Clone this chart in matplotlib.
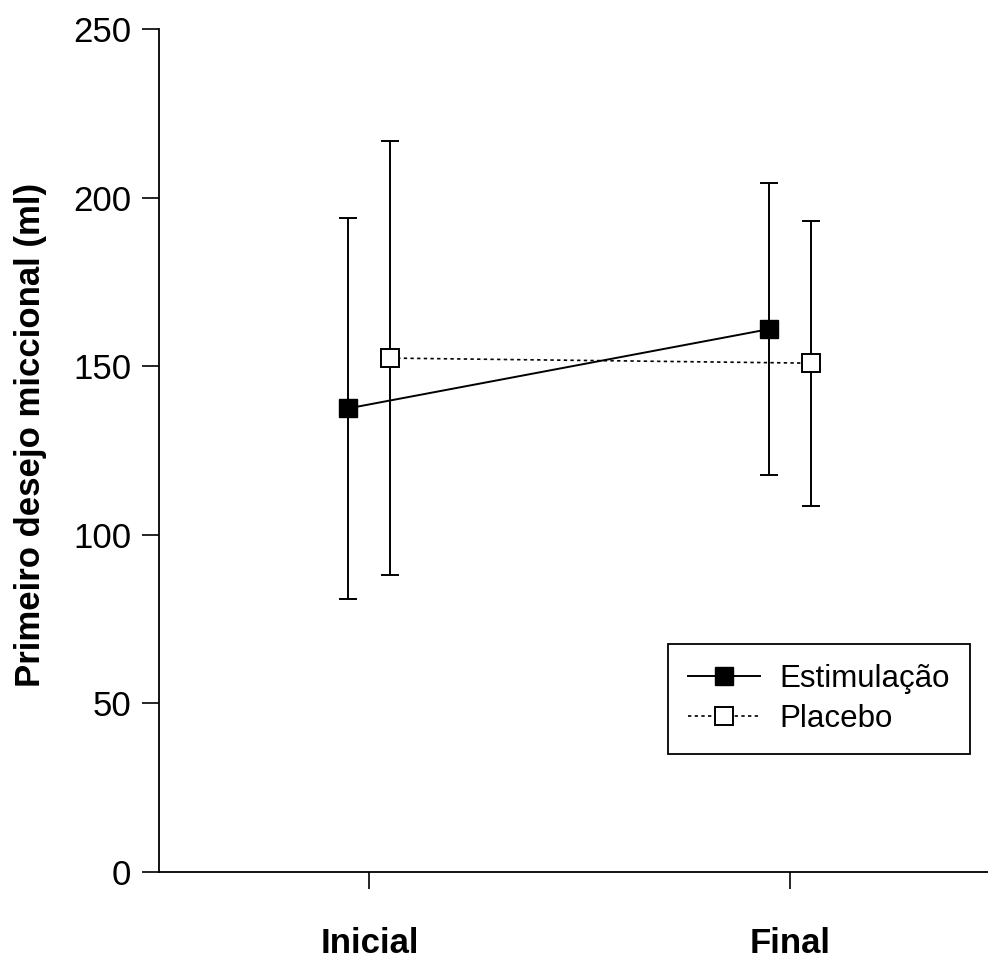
import numpy as np
import matplotlib
matplotlib.use("Agg")
import matplotlib.pyplot as plt

plt.rcParams['font.family'] = ['Liberation Sans', 'DejaVu Sans']

# data
momentos = ['Inicial', 'Final']
estim_media = [137.5, 161.0]
estim_dp = [56.5, 43.2]
placebo_media = [152.4, 150.9]
placebo_dp = [64.3, 42.3]

x = np.arange(1, len(momentos) + 1)
off = 0.05

fig = plt.figure(figsize=(9.88, 9.61), dpi=100)
ax = fig.add_axes([159 / 988, 89 / 961, 1 - 159 / 988, (872 - 29) / 961])

# error bars first, markers on top
ax.errorbar(x - off, estim_media, yerr=estim_dp, fmt='none', ecolor='black',
            elinewidth=1.4, capsize=6.5, capthick=1.4, zorder=2)
ax.errorbar(x + off, placebo_media, yerr=placebo_dp, fmt='none', ecolor='black',
            elinewidth=1.4, capsize=6.5, capthick=1.4, zorder=2)

ax.plot(x - off, estim_media, '-', color='black', lw=1.4, marker='s',
        markersize=13.5, markerfacecolor='black', markeredgecolor='black',
        label='Estimulação', zorder=3)
ax.plot(x + off, placebo_media, color='black', lw=1.2, linestyle=(0, (2, 2)),
        marker='s', markersize=13.5, markerfacecolor='white',
        markeredgecolor='black', markeredgewidth=1.4, label='Placebo', zorder=3)

ax.set_xlim(0.5, 2.47)
ax.set_ylim(0, 250)
ax.set_yticks([0, 50, 100, 150, 200, 250])
ax.set_xticks(x)
ax.set_xticklabels(momentos, fontsize=25, fontweight='bold')
ax.tick_params(axis='y', labelsize=25, length=12, width=1.2, pad=8)
ax.tick_params(axis='x', length=12, width=1.2, pad=27.5)

for s in ['top', 'right']:
    ax.spines[s].set_visible(False)
for s in ['left', 'bottom']:
    ax.spines[s].set_linewidth(1.3)

fig.text(0.031, 0.547, 'Primeiro desejo miccional (ml)', rotation=90,
         ha='center', va='center', fontsize=25, fontweight='bold')

leg = ax.legend(loc='upper left', bbox_to_anchor=(668 / 988, (961 - 644) / 961),
                bbox_transform=fig.transFigure, borderaxespad=0, fancybox=False,
                framealpha=1, edgecolor='black', fontsize=22.5, handlelength=2.3,
                handletextpad=0.6, borderpad=0.65, labelspacing=0.3, markerscale=1.0)
leg.get_frame().set_linewidth(1.3)

fig.savefig('out.png', dpi=100)
